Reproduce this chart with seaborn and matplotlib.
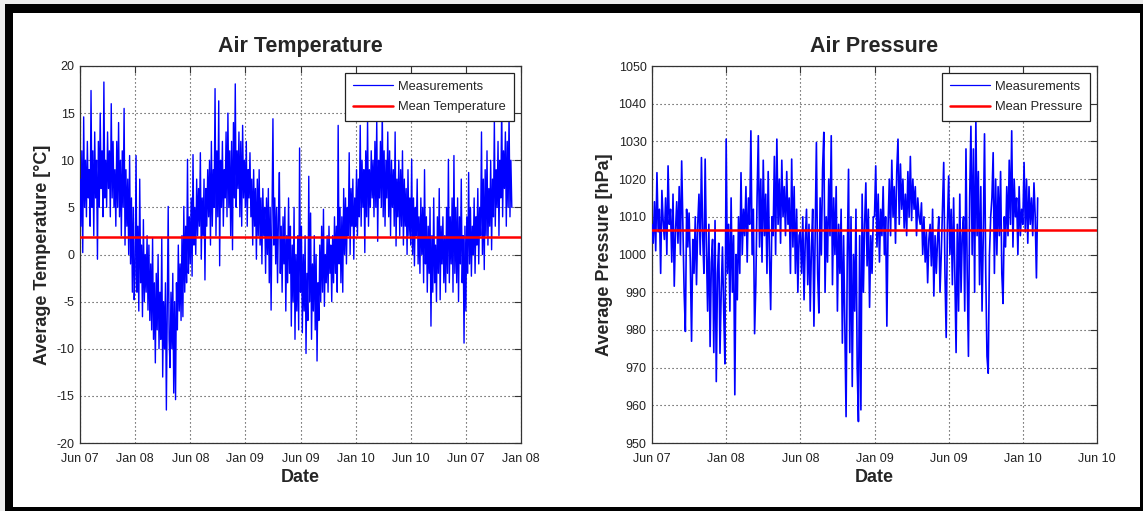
import numpy as np
import pandas as pd
import matplotlib
matplotlib.use("Agg")
import matplotlib.pyplot as plt
import seaborn as sns
from matplotlib.patches import Rectangle
from matplotlib.lines import Line2D

# ---------------- data ----------------
temp_tick_labels = ["Jun 07", "Jan 08", "Jun 08", "Jan 09", "Jun 09",
                    "Jan 10", "Jun 10", "Jun 07", "Jan 08"]
pressure_tick_labels = ["Jun 07", "Jan 08", "Jun 08", "Jan 09", "Jun 09",
                        "Jan 10", "Jun 10"]
temp_yticks = [-20, -15, -10, -5, 0, 5, 10, 15, 20]
pressure_yticks = [950, 960, 970, 980, 990, 1000, 1010, 1020, 1030, 1040, 1050]

temp_samples_per_tick = 60
pressure_samples_per_tick = 60

temp_values = [
    # Jun 07 -> Jan 08
    8, 3, 11, 0.2, 14.6, 5, 10, 4, 12, 6,
    9, 3, 17.4, 5, 11, 2, 13, 6, 10, -0.5,
    12, 5, 15, 7, 11, 4, 18.3, 6, 10, 5,
    13, 7, 11, 4, 16, 6, 12, 5, 9, 3,
    12, 5, 14, 4, 10, 2, 11, 5, 15.5, 1,
    9, 3, 8, 0, 10.5, -1, 6, -4, 5, -4.8,
    # Jan 08 -> Jun 08
    -2, 10.5, -4, 3, -6, 8, -3, 1, -6.6, 3.7,
    -5, 0, -4, 2, -5.9, 1, -7, -1, -8, 1.8,
    -9, -3, -11.5, -2, -8, 0, -10, -4, -9, 1.8,
    -13, -5, -10, -3, -16.5, -6, 5.1, -9, -12, -4,
    -10, -2, -14.7, -5, -15.4, -3, -8, 1, -6, -1,
    -7, 2, -6.6, 5.1, -4, 3, -3, 10.1, -2, 4,
    # Jun 08 -> Jan 09
    -1, 6, -2.3, 10.6, 1, 5, 0, 8, 2, 7,
    3, 10.8, -0.5, 6, 2, 8, -2.7, 7, 3, 9,
    4, 10, 1, 12, 3, 9, 5, 17.6, 2, 11,
    4, 16.3, -1.2, 10, 5, 12, 3, 9, 6, 13,
    4, 15, 5, 11, 2, 12, 0.5, 14, 6, 18.1,
    5, 11, 7, 13, 4, 12, 3, 13.7, 6, 10,
    # Jan 09 -> Jun 09
    5, 12, 3, 9, 6, 10.8, 4, 8, 1, 9,
    3, 7, -0.5, 8, 2, 9, 1, 6, -1, 7,
    2, 5, -2, 6, 0, 7, -3, 5, -5.9, 4,
    14.4, 1, 6, -1, 5, -3, 4, 8.7, -2, 3,
    -4, 4, -1, 5, -6, 2, -3, 6, -2, 3,
    -7.6, 1, -5, 5, -9, 0, -6, 2, -8, 11.3,
    # Jun 09 -> Jan 10
    -4, 3, -8.3, 0, -6, 2, -10.5, -2, -7, 8.3,
    -5, 4.4, -9, -1, -6, 2, -8, 0, -11.3, -3,
    -7, 1, -5, 3, -4, 4.8, -5.5, 0, -3, 2,
    -4, 3, -2, 1, -5, 2, -3, 4, -2, 3,
    -4, 13.7, -1, 5, -3, 4, -4, 7, 0, 6,
    -1, 5, 2, 10.8, 0, 7, 3, 8, -0.5, 6,
    # Jan 10 -> Jun 10
    3, 9, 2, 8, 4, 13.7, 3, 10, 5, 9,
    0.2, 11, 4, 14.4, 3, 9, 5, 11, 6, 10,
    4, 12, 5, 14.4, 1.4, 10, 6, 12, 5, 15.4,
    4, 11, 3, 10, 6, 13, 4, 11, 2, 10,
    5, 9, 3, 13, 0.9, 8, 4, 10, 2, 9,
    3, 11, 1, 8, 3, 7, 0, 9, 2, 6,
    # Jun 10 -> "Jun 07"
    1, 10.1, 0, 6, -1.2, 5, 2, 8, -1, 4,
    -2, 6, 0, 5, -3, 9, -1, 4, -4, 3,
    -2, 5, -7.6, 2, -4, 6, -3, 1, -5, 4,
    -2, 7, -4.8, 3, -1, 4, -3, 2, -4, 5,
    -2, 10.1, -3, 4, -1, 6, -4, 10.5, -2, 5,
    -3, 6, -5, 4, -1, 8, -3, 2, -9.4, 3,
    # "Jun 07" -> end
    -6, 4, -2, 8.7, -1, 5, -2.3, 3, 0, 6,
    -2, 4, 1, 7, -1, 5, 2, 13, 0, 8,
    -1.6, 9, 2, 11, 1, 7, 3, 10, 0.5, 8,
    4, 14.2, 3, 9, 5, 12, 2, 10, 6, 16,
    4, 11, 7, 13, 3, 12, 5, 15, 4, 10,
    5,
]
temp_mean = 1.9

pressure_values = [
    # Jun 07 -> Jan 08
    1008, 1003, 1014, 1001, 1021.7, 1006, 1012, 995, 1017, 1009,
    1004, 1015, 1000, 1023.5, 1008, 1012, 998, 1016, 991.6, 1006,
    1014, 1003, 1018, 1000, 1024.8, 1007, 990, 979.6, 1012, 1002,
    1011, 998, 977, 1004, 995, 1010, 992, 1008, 1016, 1000,
    1025.7, 1005, 995, 1025.3, 1002, 985, 1008, 975.6, 998, 1004,
    974, 1009, 966.3, 995, 1003, 973.8, 990, 1002, 985, 971,
    # Jan 08 -> Jun 08
    1030.6, 995, 1008, 985, 1015, 990, 1005, 962.8, 1000, 988,
    1010, 995, 1021.7, 1000, 1012, 1005, 1018, 998, 1015, 1008,
    1032.8, 1000, 1012, 979, 992, 1015, 1031.5, 1002, 1020, 998,
    1025, 1005, 1016, 995, 1022, 1000, 985.4, 1010, 1005, 1026,
    1000, 1030.6, 1008, 1020, 1003, 1025, 1010, 1018, 1005, 1022,
    1008, 1015, 995, 1025.3, 1002, 1018, 995, 1012, 990, 1005,
    # Jun 08 -> Jan 09
    1006, 995, 1010, 988, 1004, 1012, 992, 1008, 985, 1002,
    1012, 981, 1005, 1029.7, 995, 984.5, 1015, 1000, 1022.6, 1032.4,
    990, 1010, 998, 1020, 1005, 1031.5, 992, 1015, 1000, 1018,
    985, 1008, 995, 1012, 976.5, 1005, 980, 957, 1000, 1022.6,
    974, 1010, 965, 1000, 985, 1012, 970, 955.7, 1005, 958.8,
    1016, 990, 1008, 1019, 997, 1012, 986, 1005, 995, 1010,
    # Jan 09 -> Jun 09
    1010, 1023.5, 1002, 1016, 998, 1012, 1005, 1018, 1000, 1010,
    981, 1008, 1020, 1005, 1025, 1010, 1018, 1003, 1022, 1030.6,
    1008, 1024, 1012, 1020, 1007, 1016, 1005, 1022, 1010, 1026,
    1009, 1020, 1012, 1018, 1005, 1015, 1010, 1008, 1013.7, 1000,
    1010, 998, 1006, 992.5, 1004, 1008, 997, 1012, 989, 1005,
    995, 1004, 1010, 990, 1000, 1012, 1024.4, 995, 978, 1008,
    # Jun 09 -> Jan 10
    1020.8, 1000, 1012, 992, 1015, 995, 974, 1008, 985, 1016, 990,
    1005, 1010, 985, 1028, 995, 973, 1015, 1034,
    1000, 1028, 990, 1035.5, 1005, 1022, 992, 1018,
    985, 1005, 1032, 995, 973, 968.5, 1000, 1010,
    1015, 1027, 995, 1020, 1000, 1018, 1005, 1022, 995, 987, 1010,
    1002, 1018, 1005, 1025, 1008, 1032.8, 1002, 1020, 1010, 1015, 1000, 1018,
    1005, 1012,
    # Jan 10 -> end
    1008, 1024.4, 1006, 1020, 1003, 1018, 1008, 1015, 1005, 1019, 1010,
    993.8, 1015,
]
pressure_mean = 1006.6

# ---------------- style ----------------
sns.set_style("white")
plt.rcParams["font.family"] = ["Liberation Sans", "DejaVu Sans"]

W, H = 1143, 511
fig = plt.figure(figsize=(W / 100, H / 100), dpi=100)
fig.patch.set_facecolor("white")

ax1 = fig.add_axes([80 / W, 68 / H, 441 / W, 377 / H])
ax2 = fig.add_axes([652 / W, 68 / H, 445 / W, 377 / H])

temp_df = pd.DataFrame({
    "x": np.arange(len(temp_values)) / temp_samples_per_tick,
    "y": temp_values,
})
pres_df = pd.DataFrame({
    "x": np.arange(len(pressure_values)) / pressure_samples_per_tick,
    "y": pressure_values,
})


def style_axis(ax, df, mean, mean_label, title, ylabel, tick_labels, yticks,
               data_lw):
    sns.lineplot(data=df, x="x", y="y", ax=ax, color="#0000ff",
                 linewidth=data_lw, zorder=3, legend=False)
    ax.axhline(mean, color="#ff0000", linewidth=1.8, zorder=4)
    ax.set_xlim(0, len(tick_labels) - 1)
    ax.set_ylim(yticks[0], yticks[-1])
    ax.set_xticks(np.arange(len(tick_labels)))
    ax.set_xticklabels(tick_labels)
    ax.set_yticks(yticks)
    ax.set_yticklabels([str(v) for v in yticks])
    ax.set_axisbelow(True)
    ax.grid(True, linestyle=(0, (1, 2.6)), color="#333333", linewidth=0.8)
    ax.tick_params(direction="in", length=5, width=0.8, top=True, right=True,
                   labelsize=9, labelcolor="#222222", color="#333333")
    ax.tick_params(axis="x", pad=7)
    ax.tick_params(axis="y", pad=4)
    for sp in ax.spines.values():
        sp.set_color("#333333")
        sp.set_linewidth(0.9)
    ax.set_title(title, fontsize=15.5, fontweight="bold", pad=10)
    ax.set_xlabel("Date", fontsize=13, fontweight="bold", labelpad=3)
    ax.set_ylabel(ylabel, fontsize=13, fontweight="bold", labelpad=4)
    handles = [Line2D([], [], color="#0000ff", linewidth=0.9),
               Line2D([], [], color="#ff0000", linewidth=1.8)]
    leg = ax.legend(handles, ["Measurements", mean_label], loc="upper right",
                    fontsize=9.3, frameon=True, fancybox=False,
                    edgecolor="#222222", framealpha=1, handlelength=3.1,
                    labelspacing=0.66, borderaxespad=0.55, handletextpad=0.4,
                    borderpad=0.6)
    leg.get_frame().set_linewidth(0.9)
    leg.set_zorder(10)


style_axis(ax1, temp_df, temp_mean, "Mean Temperature", "Air Temperature",
           "Average Temperature [°C]", temp_tick_labels, temp_yticks, 1.0)
style_axis(ax2, pres_df, pressure_mean, "Mean Pressure", "Air Pressure",
           "Average Pressure [hPa]", pressure_tick_labels, pressure_yticks, 1.2)

# ---------------- screenshot frame ----------------
def px_rect(x0, y0, x1, y1, color):
    fig.add_artist(Rectangle((x0 / W, 1 - y1 / H), (x1 - x0) / W, (y1 - y0) / H,
                             transform=fig.transFigure, facecolor=color,
                             edgecolor="none", zorder=20))

px_rect(0, 0, W, 4, "#ececec")
px_rect(0, 0, 5, H, "#ececec")
px_rect(5, 4, W, 13, "black")
px_rect(5, 4, 13, H, "black")
px_rect(1140, 4, W, H, "black")
px_rect(5, 507, W, H, "black")

fig.savefig("out.png", dpi=100)
